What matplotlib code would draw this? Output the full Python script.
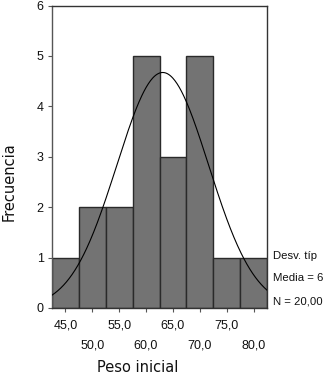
import numpy as np
import matplotlib
matplotlib.use("Agg")
import matplotlib.pyplot as plt

plt.rcParams['font.family'] = ['Liberation Sans', 'DejaVu Sans']

# Data
bin_centers = [45, 50, 55, 60, 65, 70, 75, 80]
counts = [1, 2, 2, 5, 3, 5, 1, 1]
bin_width = 5
mean_val = 63.1
std_val = 8.54
n_val = 20
major_labels = ["45,0", "55,0", "65,0", "75,0"]
minor_labels = ["50,0", "60,0", "70,0", "80,0"]
# statistics legend, as far as it is visible in the reference
stats_text = ["Desv. típ", "Media = 6", "N = 20,00"]

W, H = 324, 375
fig = plt.figure(figsize=(W / 100, H / 100), dpi=100)
ax = fig.add_axes([52 / W, 1 - 308 / H, (267 - 52) / W, (308 - 5.5) / H])

ax.bar(bin_centers, counts, width=bin_width, color='#737373',
       edgecolor='#2a2a2a', linewidth=1.0, zorder=2)

xs = np.linspace(42.5, 82.5, 300)
ys = n_val * bin_width / (std_val * np.sqrt(2 * np.pi)) * np.exp(-0.5 * ((xs - mean_val) / std_val) ** 2)
ax.plot(xs, ys, color='black', linewidth=0.8, zorder=3)

ax.set_xlim(42.5, 82.5)
ax.set_ylim(0, 6)

ax.set_xticks(bin_centers[0::2])
ax.set_xticklabels(major_labels)
ax.set_xticks(bin_centers[1::2], minor=True)
ax.set_xticklabels(minor_labels, minor=True)
ax.set_yticks(range(0, 7))
ax.set_yticklabels([str(i) for i in range(0, 7)])

ax.tick_params(axis='x', which='major', direction='out', length=3, width=0.8,
               color='#555555', labelsize=9, pad=5, labelcolor='#111111')
ax.tick_params(axis='x', which='minor', direction='out', length=3, width=0.8,
               color='#555555', labelsize=9, pad=20, labelcolor='#111111')
ax.tick_params(axis='y', direction='out', length=3, width=0.8,
               color='#555555', labelsize=9, pad=3, labelcolor='#111111')

for s in ax.spines.values():
    s.set_color('#333333')
    s.set_linewidth(1.0)
ax.spines['left'].set_color('#555555')

fig.text(9 / W, 1 - 182 / H, "Frecuencia", rotation=90, ha='center', va='center',
         fontsize=10.5, color='#111111', family=['DejaVu Sans'])
fig.text(138 / W, 1 - 367 / H, "Peso inicial", ha='center', va='center',
         fontsize=10.5, color='#111111', family=['DejaVu Sans'])

for txt, yp in zip(stats_text, [256, 278, 301]):
    fig.text(273 / W, 1 - yp / H, txt, ha='left', va='center', fontsize=8.2,
             color='#111111')

fig.savefig("out.png", dpi=100)
